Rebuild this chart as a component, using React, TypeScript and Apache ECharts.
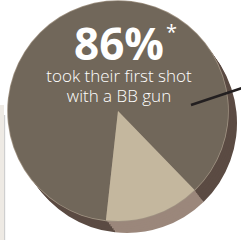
import React, { useEffect, useRef } from "react";
import * as echarts from "echarts";

const categories = ["BB gun", "Other"];
const values = [86, 14];
const topColors = ["#71675a", "#c4b79e"];
const sideColors = ["#5b4b43", "#9b877b"];
const headline = "86%";
const footnoteMark = "*";
const captionLines = ["took their first shot", "with a BB gun"];

const CX = 118;
const CY = 111;
const R = 110;
const DX = 9;
const DY = 12;
const STEPS = 6;
const START = -96.3;

export default function App() {
  const ref = useRef<HTMLDivElement>(null);
  useEffect(() => {
    document.body.style.margin = "0";
    const chart = echarts.init(ref.current!, null, { renderer: "svg" });
    const data = (cols: string[]) =>
      categories.map((name, i) => ({ name, value: values[i], itemStyle: { color: cols[i] } }));
    const series: any[] = [];
    for (let k = STEPS; k >= 1; k--) {
      series.push({
        type: "pie",
        silent: true,
        center: [CX + (DX * k) / STEPS, CY + (DY * k) / STEPS],
        radius: [0, R],
        startAngle: START,
        clockwise: true,
        label: { show: false },
        labelLine: { show: false },
        itemStyle: { borderWidth: 0 },
        data: data(sideColors),
        z: 1,
      });
    }
    series.push({
      type: "pie",
      silent: true,
      center: [CX, CY],
      radius: [0, R + 0.8],
      startAngle: START,
      label: { show: false },
      labelLine: { show: false },
      itemStyle: { borderWidth: 0, color: "#a09383" },
      data: categories.map((name, i) => ({ name, value: values[i] })),
      z: 2,
    });
    series.push({
      type: "pie",
      silent: true,
      center: [CX, CY],
      radius: [0, R],
      startAngle: START,
      label: { show: false },
      labelLine: { show: false },
      itemStyle: { borderWidth: 0 },
      data: data(topColors),
      z: 3,
    });
    const richText =
      "{h|" + headline + "}\n" + captionLines.map((l) => "{c|" + l + "}").join("\n");
    chart.setOption({
      animation: false,
      backgroundColor: "#ffffff",
      series,
      graphic: [
        { type: "rect", z: 0, shape: { x: 0, y: 105, width: 4, height: 135 }, style: { fill: "#eeeae4" } },
        { type: "rect", z: 0, shape: { x: 4, y: 115, width: 1.2, height: 125 }, style: { fill: "#cfcfcf" } },
        {
          type: "text",
          z: 10,
          x: 119,
          y: 21,
          style: {
            text: richText,
            fill: "#ffffff",
            align: "center",
            verticalAlign: "top",
            rich: {
              h: {
                fill: "#ffffff",
                font: "bold 44px 'Open Sans'",
                lineHeight: 44,
                align: "center",
              },
              c: {
                fill: "#ffffff",
                font: "300 17px 'Open Sans'",
                lineHeight: 20,
                align: "center",
              },
            },
          },
        },
        {
          type: "text",
          z: 10,
          x: 166,
          y: 31,
          style: {
            text: footnoteMark,
            fill: "#ffffff",
            font: "20px 'Open Sans'",
            lineHeight: 14,
            align: "left",
            verticalAlign: "middle",
          },
        },
        {
          type: "line",
          z: 10,
          shape: { x1: 191, y1: 105, x2: 245, y2: 87 },
          style: { stroke: "#231f20", lineWidth: 2.6 },
        },
      ],
    });
    return () => chart.dispose();
  }, []);
  return (
    <div
      ref={ref}
      style={{ position: "absolute", left: 0, top: 0, width: 241, height: 240 }}
    />
  );
}
